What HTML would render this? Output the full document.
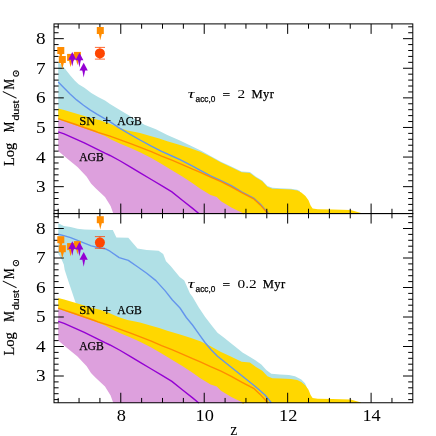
<!DOCTYPE html>
<html><head><meta charset="utf-8"><title>dust mass vs z</title>
<style>html,body{margin:0;padding:0;background:#fff}svg{display:block}text{font-family:"Liberation Serif",serif;fill:#000}.b{stroke:#000;stroke-width:0.25px}.c{stroke:#000;stroke-width:0.2px}.s{font-family:"Liberation Sans",sans-serif}</style></head><body>
<svg width="436" height="436" viewBox="0 0 436 436">
<rect width="436" height="436" fill="#fff"/>
<polygon points="58.2,61.5 63.9,67.4 65.8,69.7 70.3,75.5 74.9,80.8 78.6,84.2 84.4,87.8 91.3,93.0 98.1,97.1 105.0,100.5 110.0,104.1 121.5,111.0 132.9,117.8 144.4,124.7 155.9,129.3 167.3,135.0 178.8,140.1 190.3,145.4 201.7,151.1 210.6,156.0 221.0,161.8 231.3,166.4 241.6,171.5 249.9,172.1 256.0,176.7 262.3,180.4 267.4,186.0 272.6,187.8 280.0,188.2 291.0,188.8 297.2,189.8 300.0,191.0 300.0,200.0 58.2,125.0" fill="#B0E0E6"/>
<polygon points="58.2,108.6 64.1,110.1 74.2,112.9 84.3,116.1 94.4,119.1 100.0,120.3 109.2,123.4 118.3,127.4 127.5,130.4 135.1,132.0 140.0,132.9 151.2,136.3 159.2,138.6 167.3,141.3 180.0,145.1 190.3,148.2 200.3,151.7 210.6,156.8 221.0,162.6 231.3,167.2 241.6,172.3 249.9,172.9 256.0,177.5 262.3,181.2 267.4,186.8 272.4,188.8 280.6,189.0 291.0,189.5 297.2,190.5 301.3,192.6 305.4,196.1 308.5,200.2 310.6,205.4 312.6,208.4 317.8,209.3 332.3,209.6 350.6,210.1 361.0,212.9 361.0,213.5 243.7,213.5 243.7,214.5 241.6,213.6 231.3,208.4 221.0,202.2 216.8,198.1 210.6,196.0 200.3,189.8 192.6,184.3 182.3,177.5 171.9,171.3 161.6,165.1 151.3,158.9 141.0,153.7 130.6,149.0 120.3,144.8 111.0,140.5 105.0,137.0 94.4,132.8 84.3,129.3 74.2,125.7 64.1,122.2 58.2,120.2" fill="#FFD700"/>
<polygon points="58.2,119.2 64.1,121.2 74.2,124.7 84.3,128.3 94.4,131.8 105.0,136.0 111.0,139.5 120.3,143.8 130.6,148.0 141.0,152.7 151.3,157.9 161.6,164.1 171.9,170.3 182.3,176.5 192.6,183.3 200.3,188.8 210.6,195.0 216.8,197.1 221.0,201.2 231.3,207.4 241.6,212.6 243.7,213.5 113.3,213.5 110.6,206.0 105.0,196.9 95.9,188.4 91.0,183.6 86.7,176.8 77.5,167.0 68.3,159.6 58.2,151.0" fill="#DDA0DD"/>
<polyline points="58.2,82.0 62.9,86.8 69.8,93.7 76.6,99.9 83.5,105.3 90.4,110.1 97.3,114.4 104.2,118.4 109.2,121.1 118.3,127.4 127.5,132.9 140.0,140.0 151.3,146.2 161.6,151.4 171.9,156.0 180.0,159.6 192.6,166.2 200.3,170.3 210.6,175.8 221.0,180.6 231.3,185.7 241.6,191.9 253.6,198.1 260.4,204.3 268.4,213.5" fill="none" stroke="#6495ED" stroke-width="1.4" stroke-linejoin="round"/>
<polyline points="58.2,118.7 64.1,120.6 74.2,124.0 84.3,127.5 94.4,131.0 98.0,132.3 110.0,136.2 120.3,139.9 130.6,143.6 141.0,147.6 151.3,151.7 161.6,156.1 171.9,160.2 182.3,164.6 192.6,169.2 200.3,172.3 210.6,177.1 221.0,181.6 231.3,186.8 241.6,192.6 253.6,198.8 260.2,204.9 268.0,213.5" fill="none" stroke="#FF8C00" stroke-width="1.4"/>
<polyline points="58.2,131.8 64.1,133.8 74.2,138.3 84.3,142.9 95.9,148.6 105.0,153.2 110.0,155.5 120.3,161.0 130.6,167.2 141.0,173.4 151.3,179.5 161.6,185.7 171.9,191.9 182.3,200.2 192.6,208.4 198.8,213.5" fill="none" stroke="#9400D3" stroke-width="1.4"/>
<polygon points="58.3,223.3 63.8,226.0 70.6,227.1 77.5,228.8 84.4,229.4 100.0,230.0 112.8,230.1 116.4,237.4 128.3,237.8 137.5,248.4 146.7,249.9 158.6,250.8 163.2,253.9 166.0,261.3 170.6,265.9 179.7,276.9 184.3,280.6 190.0,293.4 192.5,296.8 198.8,307.5 205.0,316.8 211.3,325.0 217.5,332.8 223.8,337.5 230.0,342.5 236.3,347.5 242.5,352.5 248.8,356.3 255.0,360.0 261.3,364.5 266.3,370.0 271.3,373.8 280.0,374.5 289.0,375.0 295.0,376.3 301.3,379.5 305.0,383.3 308.0,390.0 200.0,395.0 76.0,306.0 75.7,303.0 72.0,292.0 68.3,281.0 64.7,270.0 63.8,264.5 61.0,258.0 58.3,254.0" fill="#B0E0E6"/>
<polygon points="58.2,298.1 64.1,299.6 74.2,302.4 84.3,305.6 94.4,308.6 100.0,309.8 109.2,312.9 118.3,316.9 127.5,319.9 135.1,321.5 140.0,322.4 151.2,325.8 159.2,328.1 167.3,330.8 180.0,334.6 190.3,337.7 200.3,341.2 210.6,346.3 221.0,352.1 231.3,356.7 241.6,361.8 249.9,362.4 256.0,367.0 262.3,370.7 267.4,376.3 272.4,378.3 280.6,378.5 291.0,379.0 297.2,380.0 301.3,382.1 305.4,385.6 308.5,389.7 310.6,394.9 312.6,397.9 317.8,398.8 332.3,399.1 350.6,399.6 361.0,402.4 361.0,403.0 243.7,403.0 243.7,404.0 241.6,403.1 231.3,397.9 221.0,391.7 216.8,387.6 210.6,385.5 200.3,379.3 192.6,373.8 182.3,367.0 171.9,360.8 161.6,354.6 151.3,348.4 141.0,343.2 130.6,338.5 120.3,334.3 111.0,330.0 105.0,326.5 94.4,322.3 84.3,318.8 74.2,315.2 64.1,311.7 58.2,309.7" fill="#FFD700"/>
<polygon points="58.2,308.7 64.1,310.7 74.2,314.2 84.3,317.8 94.4,321.3 105.0,325.5 111.0,329.0 120.3,333.3 130.6,337.5 141.0,342.2 151.3,347.4 161.6,353.6 171.9,359.8 182.3,366.0 192.6,372.8 200.3,378.3 210.6,384.5 216.8,386.6 221.0,390.7 231.3,396.9 241.6,402.1 243.7,403.0 113.3,403.0 110.6,395.5 105.0,386.4 95.9,377.9 91.0,373.1 86.7,366.3 77.5,356.5 68.3,349.1 58.2,340.5" fill="#DDA0DD"/>
<polyline points="58.3,234.3 63.8,235.6 70.6,237.7 77.5,240.4 84.4,243.2 91.3,245.9 98.0,247.5 105.0,248.7 110.0,251.2 119.2,257.6 128.3,260.4 137.5,266.8 146.7,273.2 155.9,280.6 165.0,290.6 172.4,300.0 180.0,308.0 186.3,317.5 192.5,325.0 198.8,333.8 205.0,342.5 211.3,350.0 217.5,356.3 230.0,366.3 242.5,376.3 255.0,386.3 265.0,395.0 271.3,402.8" fill="none" stroke="#6495ED" stroke-width="1.4" stroke-linejoin="round"/>
<polyline points="58.2,308.2 64.1,310.1 74.2,313.5 84.3,317.0 94.4,320.5 98.0,321.8 110.0,325.7 120.3,329.4 130.6,333.1 141.0,337.1 151.3,341.2 161.6,345.6 171.9,349.7 182.3,354.1 192.6,358.7 200.3,361.8 210.6,366.6 221.0,371.1 231.3,376.3 241.6,382.1 253.6,388.3 260.2,394.4 268.0,403.0" fill="none" stroke="#FF8C00" stroke-width="1.4"/>
<polyline points="58.2,321.3 64.1,323.3 74.2,327.8 84.3,332.4 95.9,338.1 105.0,342.7 110.0,345.0 120.3,350.5 130.6,356.7 141.0,362.9 151.3,369.0 161.6,375.2 171.9,381.4 182.3,389.7 192.6,397.9 198.8,403.0" fill="none" stroke="#9400D3" stroke-width="1.4"/>
<path d="M58.20,23.90v4.8M58.20,213.55v-4.8M79.06,23.90v4.8M79.06,213.55v-4.8M99.92,23.90v4.8M99.92,213.55v-4.8M120.78,23.90v10M120.78,213.55v-10M141.64,23.90v4.8M141.64,213.55v-4.8M162.50,23.90v4.8M162.50,213.55v-4.8M183.36,23.90v4.8M183.36,213.55v-4.8M204.22,23.90v10M204.22,213.55v-10M225.08,23.90v4.8M225.08,213.55v-4.8M245.94,23.90v4.8M245.94,213.55v-4.8M266.80,23.90v4.8M266.80,213.55v-4.8M287.66,23.90v10M287.66,213.55v-10M308.52,23.90v4.8M308.52,213.55v-4.8M329.38,23.90v4.8M329.38,213.55v-4.8M350.24,23.90v4.8M350.24,213.55v-4.8M371.10,23.90v10M371.10,213.55v-10M391.96,23.90v4.8M391.96,213.55v-4.8M54.00,210.34h4.6M412.80,210.34h-4.6M54.00,204.42h4.6M412.80,204.42h-4.6M54.00,198.50h4.6M412.80,198.50h-4.6M54.00,192.58h4.6M412.80,192.58h-4.6M54.00,186.66h9.8M412.80,186.66h-9.8M54.00,180.74h4.6M412.80,180.74h-4.6M54.00,174.82h4.6M412.80,174.82h-4.6M54.00,168.90h4.6M412.80,168.90h-4.6M54.00,162.98h4.6M412.80,162.98h-4.6M54.00,157.06h9.8M412.80,157.06h-9.8M54.00,151.14h4.6M412.80,151.14h-4.6M54.00,145.22h4.6M412.80,145.22h-4.6M54.00,139.30h4.6M412.80,139.30h-4.6M54.00,133.38h4.6M412.80,133.38h-4.6M54.00,127.46h9.8M412.80,127.46h-9.8M54.00,121.54h4.6M412.80,121.54h-4.6M54.00,115.62h4.6M412.80,115.62h-4.6M54.00,109.70h4.6M412.80,109.70h-4.6M54.00,103.78h4.6M412.80,103.78h-4.6M54.00,97.86h9.8M412.80,97.86h-9.8M54.00,91.94h4.6M412.80,91.94h-4.6M54.00,86.02h4.6M412.80,86.02h-4.6M54.00,80.10h4.6M412.80,80.10h-4.6M54.00,74.18h4.6M412.80,74.18h-4.6M54.00,68.26h9.8M412.80,68.26h-9.8M54.00,62.34h4.6M412.80,62.34h-4.6M54.00,56.42h4.6M412.80,56.42h-4.6M54.00,50.50h4.6M412.80,50.50h-4.6M54.00,44.58h4.6M412.80,44.58h-4.6M54.00,38.66h9.8M412.80,38.66h-9.8M54.00,32.74h4.6M412.80,32.74h-4.6M54.00,26.82h4.6M412.80,26.82h-4.6M58.20,213.55v4.8M58.20,402.75v-4.8M79.06,213.55v4.8M79.06,402.75v-4.8M99.92,213.55v4.8M99.92,402.75v-4.8M120.78,213.55v10M120.78,402.75v-10M141.64,213.55v4.8M141.64,402.75v-4.8M162.50,213.55v4.8M162.50,402.75v-4.8M183.36,213.55v4.8M183.36,402.75v-4.8M204.22,213.55v10M204.22,402.75v-10M225.08,213.55v4.8M225.08,402.75v-4.8M245.94,213.55v4.8M245.94,402.75v-4.8M266.80,213.55v4.8M266.80,402.75v-4.8M287.66,213.55v10M287.66,402.75v-10M308.52,213.55v4.8M308.52,402.75v-4.8M329.38,213.55v4.8M329.38,402.75v-4.8M350.24,213.55v4.8M350.24,402.75v-4.8M371.10,213.55v10M371.10,402.75v-10M391.96,213.55v4.8M391.96,402.75v-4.8M54.00,399.60h4.6M412.80,399.60h-4.6M54.00,393.70h4.6M412.80,393.70h-4.6M54.00,387.80h4.6M412.80,387.80h-4.6M54.00,381.90h4.6M412.80,381.90h-4.6M54.00,376.00h9.8M412.80,376.00h-9.8M54.00,370.10h4.6M412.80,370.10h-4.6M54.00,364.20h4.6M412.80,364.20h-4.6M54.00,358.30h4.6M412.80,358.30h-4.6M54.00,352.40h4.6M412.80,352.40h-4.6M54.00,346.50h9.8M412.80,346.50h-9.8M54.00,340.60h4.6M412.80,340.60h-4.6M54.00,334.70h4.6M412.80,334.70h-4.6M54.00,328.80h4.6M412.80,328.80h-4.6M54.00,322.90h4.6M412.80,322.90h-4.6M54.00,317.00h9.8M412.80,317.00h-9.8M54.00,311.10h4.6M412.80,311.10h-4.6M54.00,305.20h4.6M412.80,305.20h-4.6M54.00,299.30h4.6M412.80,299.30h-4.6M54.00,293.40h4.6M412.80,293.40h-4.6M54.00,287.50h9.8M412.80,287.50h-9.8M54.00,281.60h4.6M412.80,281.60h-4.6M54.00,275.70h4.6M412.80,275.70h-4.6M54.00,269.80h4.6M412.80,269.80h-4.6M54.00,263.90h4.6M412.80,263.90h-4.6M54.00,258.00h9.8M412.80,258.00h-9.8M54.00,252.10h4.6M412.80,252.10h-4.6M54.00,246.20h4.6M412.80,246.20h-4.6M54.00,240.30h4.6M412.80,240.30h-4.6M54.00,234.40h4.6M412.80,234.40h-4.6M54.00,228.50h9.8M412.80,228.50h-9.8M54.00,222.60h4.6M412.80,222.60h-4.6M54.00,216.70h4.6M412.80,216.70h-4.6" stroke="#000" stroke-width="1" fill="none"/>
<rect x="54.0" y="23.9" width="358.8" height="189.7" fill="none" stroke="#000" stroke-width="1"/>
<rect x="54.0" y="213.55" width="358.8" height="189.2" fill="none" stroke="#000" stroke-width="1"/>
<polygon points="59.2,53.5 62.4,53.5 60.8,60.3" fill="#FF8C00"/>
<rect x="57.3" y="47.0" width="7" height="7" fill="#FF8C00"/>
<polygon points="60.7,62.5 63.9,62.5 62.3,69.3" fill="#FF8C00"/>
<rect x="58.8" y="56.0" width="7" height="7" fill="#FF8C00"/>
<polygon points="69.0,60.4 72.2,60.4 70.6,67.2" fill="#FF8C00"/>
<rect x="67.1" y="53.9" width="7" height="7" fill="#FF8C00"/>
<polygon points="75.8,58.4 79.0,58.4 77.4,65.2" fill="#FF8C00"/>
<rect x="73.9" y="51.9" width="7" height="7" fill="#FF8C00"/>
<polygon points="98.7,33.5 101.9,33.5 100.3,40.3" fill="#FF8C00"/>
<rect x="96.8" y="27.0" width="7" height="7" fill="#FF8C00"/>
<polygon points="70.8,59.3 73.8,59.3 72.3,66.5" fill="#9400D3"/>
<polygon points="72.3,52.1 68.3,59.8 76.3,59.8" fill="#9400D3"/>
<polygon points="77.9,59.8 80.9,59.8 79.4,67.4" fill="#9400D3"/>
<polygon points="79.4,52.7 75.4,60.3 83.4,60.3" fill="#9400D3"/>
<polygon points="82.2,70.1 85.2,70.1 83.7,77.5" fill="#9400D3"/>
<polygon points="83.7,62.8 79.5,70.6 87.8,70.6" fill="#9400D3"/>
<path d="M94.9,47.4H105M94.9,59.1H105M99.9,47.4V59.1" stroke="#FF4500" stroke-width="0.8" fill="none"/>
<circle cx="99.9" cy="53.4" r="5" fill="#FF4500"/>
<polygon points="59.2,242.7 62.4,242.7 60.8,249.5" fill="#FF8C00"/>
<rect x="57.3" y="236.2" width="7" height="7" fill="#FF8C00"/>
<polygon points="60.7,251.7 63.9,251.7 62.3,258.5" fill="#FF8C00"/>
<rect x="58.8" y="245.2" width="7" height="7" fill="#FF8C00"/>
<polygon points="69.0,249.6 72.2,249.6 70.6,256.4" fill="#FF8C00"/>
<rect x="67.1" y="243.1" width="7" height="7" fill="#FF8C00"/>
<polygon points="75.8,247.6 79.0,247.6 77.4,254.4" fill="#FF8C00"/>
<rect x="73.9" y="241.1" width="7" height="7" fill="#FF8C00"/>
<polygon points="98.7,222.7 101.9,222.7 100.3,229.5" fill="#FF8C00"/>
<rect x="96.8" y="216.2" width="7" height="7" fill="#FF8C00"/>
<polygon points="70.8,248.5 73.8,248.5 72.3,255.7" fill="#9400D3"/>
<polygon points="72.3,241.3 68.3,249.0 76.3,249.0" fill="#9400D3"/>
<polygon points="77.9,249.0 80.9,249.0 79.4,256.6" fill="#9400D3"/>
<polygon points="79.4,241.9 75.4,249.5 83.4,249.5" fill="#9400D3"/>
<polygon points="82.2,259.3 85.2,259.3 83.7,266.7" fill="#9400D3"/>
<polygon points="83.7,252.0 79.5,259.8 87.8,259.8" fill="#9400D3"/>
<path d="M94.9,236.6H105M94.9,248.3H105M99.9,236.6V248.3" stroke="#FF4500" stroke-width="0.8" fill="none"/>
<circle cx="99.9" cy="242.6" r="5" fill="#FF4500"/>
<text transform="translate(45.6,192.1) scale(1.2,1)" font-size="16" text-anchor="end">3</text>
<text transform="translate(45.6,162.5) scale(1.2,1)" font-size="16" text-anchor="end">4</text>
<text transform="translate(45.6,132.9) scale(1.2,1)" font-size="16" text-anchor="end">5</text>
<text transform="translate(45.6,103.3) scale(1.2,1)" font-size="16" text-anchor="end">6</text>
<text transform="translate(45.6,73.7) scale(1.2,1)" font-size="16" text-anchor="end">7</text>
<text transform="translate(45.6,44.1) scale(1.2,1)" font-size="16" text-anchor="end">8</text>
<text transform="translate(45.6,381.4) scale(1.2,1)" font-size="16" text-anchor="end">3</text>
<text transform="translate(45.6,351.9) scale(1.2,1)" font-size="16" text-anchor="end">4</text>
<text transform="translate(45.6,322.4) scale(1.2,1)" font-size="16" text-anchor="end">5</text>
<text transform="translate(45.6,292.9) scale(1.2,1)" font-size="16" text-anchor="end">6</text>
<text transform="translate(45.6,263.4) scale(1.2,1)" font-size="16" text-anchor="end">7</text>
<text transform="translate(45.6,233.9) scale(1.2,1)" font-size="16" text-anchor="end">8</text>
<text transform="translate(121.3,421.3) scale(1.16,1)" font-size="15.8" text-anchor="middle">8</text>
<text transform="translate(204.7,421.3) scale(1.16,1)" font-size="15.8" text-anchor="middle">10</text>
<text transform="translate(288.2,421.3) scale(1.16,1)" font-size="15.8" text-anchor="middle">12</text>
<text transform="translate(371.6,421.3) scale(1.16,1)" font-size="15.8" text-anchor="middle">14</text>
<text x="233.8" y="434.9" font-size="16" text-anchor="middle">z</text>
<g transform="translate(13.6,166.0) rotate(-90)"><text x="0" y="0" font-size="14.5" class="c">Log</text><text class="c" x="33.8" y="0" font-size="14.5" textLength="10.5" lengthAdjust="spacingAndGlyphs">M</text><text class="s" x="45.4" y="5.1" font-size="9" stroke="#000" stroke-width="0.2" textLength="20.2" lengthAdjust="spacingAndGlyphs">dust</text><text x="71.1" y="3.1" font-size="21.7" text-anchor="middle" transform="rotate(7.6,71.1,-4.1)">/</text><text class="c" x="76.4" y="0" font-size="14.5" textLength="10.5" lengthAdjust="spacingAndGlyphs">M</text><text x="88.6" y="5.3" font-size="9.5" stroke="#000" stroke-width="0.25" style="font-family:'DejaVu Sans',sans-serif">⊙</text></g>
<g transform="translate(13.6,355.5) rotate(-90)"><text x="0" y="0" font-size="14.5" class="c">Log</text><text class="c" x="33.8" y="0" font-size="14.5" textLength="10.5" lengthAdjust="spacingAndGlyphs">M</text><text class="s" x="45.4" y="5.1" font-size="9" stroke="#000" stroke-width="0.2" textLength="20.2" lengthAdjust="spacingAndGlyphs">dust</text><text x="71.1" y="3.1" font-size="21.7" text-anchor="middle" transform="rotate(7.6,71.1,-4.1)">/</text><text class="c" x="76.4" y="0" font-size="14.5" textLength="10.5" lengthAdjust="spacingAndGlyphs">M</text><text x="88.6" y="5.3" font-size="9.5" stroke="#000" stroke-width="0.25" style="font-family:'DejaVu Sans',sans-serif">⊙</text></g>
<text class="b" font-size="12.6"><tspan x="79.2" y="124.5">SN</tspan> <tspan x="102.6" y="125.3" font-size="15">+</tspan> <tspan x="117.3" y="124.5" textLength="24.6" lengthAdjust="spacingAndGlyphs">AGB</tspan></text>
<text x="79.2" y="160.6" font-size="12.6" class="b" textLength="24.6" lengthAdjust="spacingAndGlyphs">AGB</text>
<text x="187.8" y="98.2" font-size="13.2" font-style="italic" textLength="6.8" lengthAdjust="spacingAndGlyphs">τ</text>
<text class="s" x="195.6" y="102.2" font-size="8.4" stroke="#000" stroke-width="0.25" textLength="19.8" lengthAdjust="spacingAndGlyphs">acc,0</text>
<text class="b" x="222.6" y="99.4" font-size="12.6" textLength="7.6" lengthAdjust="spacingAndGlyphs">=</text>
<text transform="translate(237.6,98.2) scale(1.2,1)" font-size="12.8">2</text>
<text x="251.5" y="98.2" font-size="12.6" letter-spacing="0.4" class="b">Myr</text>
<text class="b" font-size="12.6"><tspan x="79.2" y="314.0">SN</tspan> <tspan x="102.6" y="314.8" font-size="15">+</tspan> <tspan x="117.3" y="314.0" textLength="24.6" lengthAdjust="spacingAndGlyphs">AGB</tspan></text>
<text x="79.2" y="350.1" font-size="12.6" class="b" textLength="24.6" lengthAdjust="spacingAndGlyphs">AGB</text>
<text x="187.8" y="287.7" font-size="13.2" font-style="italic" textLength="6.8" lengthAdjust="spacingAndGlyphs">τ</text>
<text class="s" x="195.6" y="291.7" font-size="8.4" stroke="#000" stroke-width="0.25" textLength="19.8" lengthAdjust="spacingAndGlyphs">acc,0</text>
<text class="b" x="222.6" y="288.9" font-size="12.6" textLength="7.6" lengthAdjust="spacingAndGlyphs">=</text>
<text transform="translate(237.6,287.7) scale(1.2,1)" font-size="12.8">0.2</text>
<text x="262.7" y="287.7" font-size="12.6" letter-spacing="0.4" class="b">Myr</text>
</svg></body></html>
